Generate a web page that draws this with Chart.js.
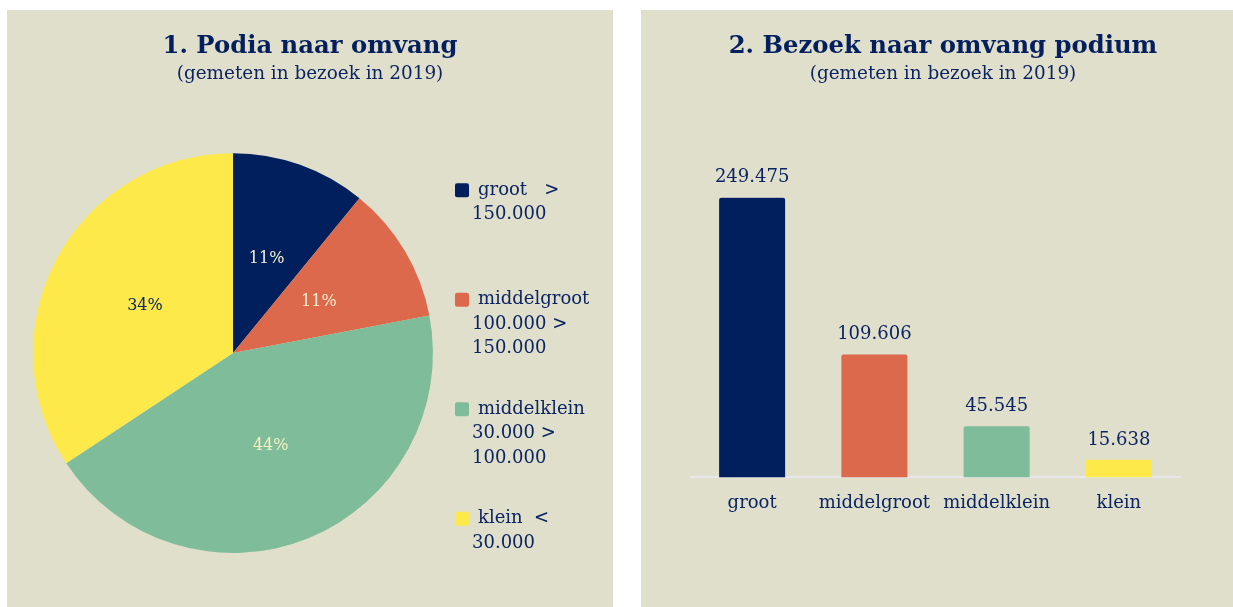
<!DOCTYPE html>
<html>
<head>
<meta charset="utf-8">
<script src="https://cdn.jsdelivr.net/npm/chart.js@4/dist/chart.umd.min.js"></script>
<style>
  html, body { margin: 0; padding: 0; background: #ffffff; }
  body { width: 1233px; height: 607px; position: relative; overflow: hidden; }
  .panel { position: absolute; background: #dfdfcc; }
  #leftPanel { left: 7px; top: 10px; width: 606px; height: 597px; }
  #rightPanel { left: 641px; top: 10px; width: 592px; height: 597px; }
</style>
</head>
<body>
<div class="panel" id="leftPanel"><canvas id="pieChart" width="606" height="597"></canvas></div>
<div class="panel" id="rightPanel"><canvas id="barChart" width="592" height="597"></canvas></div>
<script>
// ----- data -----
const categories = ['groot', 'middelgroot', 'middelklein', 'klein'];
const podiaShare = [10.9, 11.1, 43.7, 34.3];           // % of podia
const visitors = [249475, 109606, 45545, 15638];       // bezoek per podium
const legendLines = [
  ['groot   >', '150.000'],
  ['middelgroot', '100.000 >', '150.000'],
  ['middelklein', '30.000 >', '100.000'],
  ['klein  <', '30.000']
];

const colors = ['#001f5c', '#dc694b', '#7fbc99', '#fde94a'];
const pctColors = ['#f4efd2', '#fbeccc', '#f6f2c0', '#0c2461'];
const NAVY = '#0c2461';
const FONT = "'DejaVu Serif', serif";

Chart.defaults.font.family = FONT;
Chart.defaults.color = NAVY;
Chart.defaults.animation = false;

const dots = (n) => String(n).replace(/\B(?=(\d{3})+(?!\d))/g, '.');

// a fixed-width layout box on the right of the chart area (legend / spacer)
function sideBox(width, drawFn) {
  return {
    id: 'sideBox',
    beforeInit(chart) {
      const box = {
        position: 'right', weight: 100, fullSize: false, options: {},
        left: 0, top: 0, right: 0, bottom: 0, width: 0, height: 0,
        isHorizontal() { return false; },
        update(maxWidth, maxHeight) { this.width = width; this.height = maxHeight; },
        draw(area) { if (drawFn) drawFn(chart, this, area); }
      };
      Chart.layouts.addBox(chart, box);
    }
  };
}

// ----- pie: percentages inside slices -----
const pieLabels = {
  id: 'pieLabels',
  afterDatasetsDraw(chart) {
    const ctx = chart.ctx;
    const meta = chart.getDatasetMeta(0);
    const total = podiaShare.reduce((a, b) => a + b, 0);
    ctx.save();
    ctx.font = `16px ${FONT}`;
    ctx.textAlign = 'center';
    ctx.textBaseline = 'middle';
    meta.data.forEach((arc, i) => {
      const p = arc.tooltipPosition();
      ctx.fillStyle = pctColors[i];
      ctx.fillText(Math.round(podiaShare[i] / total * 100) + '%', p.x, p.y);
    });
    ctx.restore();
  }
};

// ----- pie: legend with wrapped lines -----
function drawLegend(chart, box) {
  const ctx = chart.ctx;
  const x0 = box.left + 22;
  const y0 = chart.chartArea.top + 37;
  ctx.save();
  ctx.font = `18px ${FONT}`;
  ctx.textBaseline = 'middle';
  ctx.textAlign = 'left';
  legendLines.forEach((lines, i) => {
    const y = y0 + i * 109.5;
    ctx.fillStyle = colors[i];
    ctx.beginPath();
    ctx.roundRect(x0, y - 7, 14, 14, 2);
    ctx.fill();
    ctx.fillStyle = NAVY;
    lines.forEach((line, j) => {
      ctx.fillText(line, j === 0 ? x0 + 23 : x0 + 17, y + j * 24.5);
    });
  });
  ctx.restore();
}

const titleOpts = (text) => ({
  display: true,
  text,
  color: '#041f5e',
  font: { size: 24.3, weight: 'bold', family: FONT },
  padding: { top: 22.4, bottom: 0 }
});
const subtitleOpts = (bottom) => ({
  display: true,
  text: '(gemeten in bezoek in 2019)',
  color: NAVY,
  font: { size: 18.4, family: FONT },
  padding: { top: 1.5, bottom }
});

new Chart(document.getElementById('pieChart'), {
  type: 'pie',
  data: {
    labels: categories,
    datasets: [{ data: podiaShare, backgroundColor: colors, borderWidth: 0 }]
  },
  options: {
    responsive: false,
    layout: { padding: { left: 26, right: 26, top: 0, bottom: 54 } },
    plugins: {
      legend: { display: false },
      tooltip: { enabled: false },
      title: titleOpts('1. Podia naar omvang'),
      subtitle: subtitleOpts(68)
    }
  },
  plugins: [pieLabels, sideBox(154, drawLegend)]
});

// ----- bars: value labels on top -----
const barValues = {
  id: 'barValues',
  afterDatasetsDraw(chart) {
    const ctx = chart.ctx;
    const meta = chart.getDatasetMeta(0);
    ctx.save();
    ctx.font = `18px ${FONT}`;
    ctx.fillStyle = NAVY;
    ctx.textAlign = 'center';
    ctx.textBaseline = 'middle';
    meta.data.forEach((bar, i) => {
      ctx.fillText(dots(visitors[i]), bar.x, bar.y - 20);
    });
    ctx.restore();
  }
};

new Chart(document.getElementById('barChart'), {
  type: 'bar',
  data: {
    labels: categories,
    datasets: [{
      data: visitors,
      backgroundColor: colors,
      borderRadius: 2,
      barPercentage: 0.6,
      categoryPercentage: 0.9
    }]
  },
  options: {
    responsive: false,
    layout: { padding: { left: 50, right: 38, top: 0, bottom: 78 } },
    scales: {
      y: { display: false, min: 0, max: 250000 },
      x: {
        grid: { display: false, drawTicks: false },
        border: { display: true, color: '#e6e6ec', width: 2 },
        ticks: { color: NAVY, font: { size: 18, family: FONT }, padding: 15 }
      }
    },
    plugins: {
      legend: { display: false },
      tooltip: { enabled: false },
      title: titleOpts('2. Bezoek naar omvang podium'),
      subtitle: subtitleOpts(112)
    }
  },
  plugins: [barValues, sideBox(15)]
});
</script>
</body>
</html>
